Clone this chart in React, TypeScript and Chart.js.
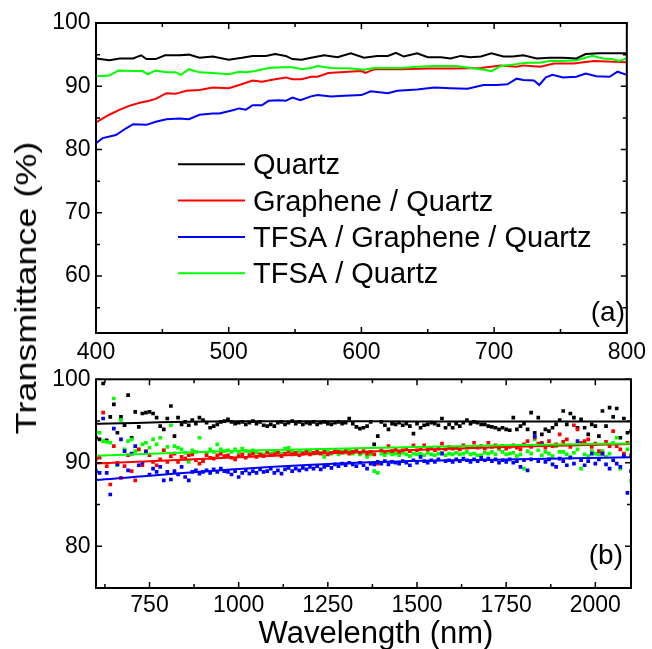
import React, { useEffect, useRef } from 'react';
import { Chart, registerables } from 'chart.js';
Chart.register(...registerables);

const FONT = '"Liberation Sans", Arial, Helvetica, sans-serif';

// ---------- Panel (a) ----------
const seriesNames = ['Quartz', 'Graphene / Quartz', 'TFSA / Graphene / Quartz', 'TFSA / Quartz'];
const seriesColors = ['#000000', '#ff0000', '#0000ff', '#00ff00'];

const quartzAX = [400,410,418,428,434,438,445,452,463,470,478,488,500,510,518,528,535,543,548,555,562,572,582,592,602,612,620,626,632,642,650,660,667,675,682,690,698,707,714,722,732,742,752,762,769,779,800];
const quartzAY = [94.4,94.1,94.4,94.4,94.9,94.3,94.3,94.9,94.9,95.0,94.5,94.7,94.2,94.5,94.8,94.8,95.1,94.8,94.3,94.2,94.5,94.9,94.6,95.2,94.5,94.8,94.8,95.3,94.7,95.2,94.6,94.6,94.4,94.8,94.6,94.7,95.2,94.7,94.7,94.9,94.4,94.5,94.5,94.4,95.1,95.2,95.2];

const grapheneAX = [400,410,418,425,433,440,445,453,460,468,478,488,500,508,518,525,535,543,548,555,562,567,575,590,600,603,610,630,650,670,690,705,717,722,735,745,760,775,800];
const grapheneAY = [84.3,85.5,86.3,86.9,87.4,87.7,88.0,88.9,88.8,89.3,89.4,89.8,89.7,90.2,90.9,90.7,91.1,91.4,91.1,91.1,91.5,91.5,92.1,92.3,92.4,92.1,92.7,92.7,92.8,92.8,92.9,93.3,93.1,93.3,93.1,93.6,93.6,94.0,93.8];

const tfsaGrapheneAX = [400,405,415,423,428,438,445,453,463,470,478,488,493,503,508,513,518,525,530,538,543,548,554,562,567,577,587,600,607,620,627,642,655,667,680,692,702,710,717,722,730,734,739,744,752,762,769,777,787,793,800];
const tfsaGrapheneAY = [81.0,81.8,82.3,83.4,84.0,83.9,84.4,84.8,84.9,84.8,85.5,85.7,85.7,86.2,86.5,86.3,87.0,87.0,87.7,87.8,87.7,88.2,87.8,88.4,88.6,88.4,88.5,88.6,89.2,88.9,89.3,89.5,89.8,89.7,89.6,90.2,90.2,90.3,91.2,91.0,90.9,90.2,91.4,91.8,91.4,91.5,92.0,91.6,91.5,92.3,91.8];

const tfsaAX = [400,410,417,428,435,439,445,453,460,464,470,478,488,500,508,513,520,530,540,548,555,562,567,577,592,602,610,630,642,655,672,682,690,698,705,717,724,734,742,752,762,767,774,782,789,794,800];
const tfsaAY = [91.6,91.7,92.5,92.4,92.4,91.9,92.5,92.2,92.2,91.8,92.7,92.2,92.1,91.9,92.3,92.2,92.4,92.9,93.0,93.0,92.7,92.9,93.2,92.9,92.8,92.6,92.9,92.9,93.1,93.2,93.2,92.9,92.7,92.4,93.2,93.5,93.7,93.7,94.0,94.0,94.1,94.4,94.8,94.4,94.3,94.0,94.4];

const xTicksA = [400,450,500,550,600,650,700,750,800];
const xLabelsA = [400,500,600,700,800];
const yTicksA = [55,60,65,70,75,80,85,90,95,100];
const yLabelsA = [60,70,80,90,100];

// ---------- Panel (b) ----------
const waveB = [
  600,610,620,630,640,650,660,670,680,690,
  700,710,720,730,740,750,760,770,780,790,
  800,810,820,830,840,850,860,870,880,890,
  900,910,920,930,940,950,960,970,980,990,
  1000,1010,1020,1030,1040,1050,1060,1070,1080,1090,
  1100,1110,1120,1130,1140,1150,1160,1170,1180,1190,
  1200,1210,1220,1230,1240,1250,1260,1270,1280,1290,
  1300,1310,1320,1330,1340,1350,1360,1370,1380,1390,
  1400,1410,1420,1430,1440,1450,1460,1470,1480,1490,
  1500,1510,1520,1530,1540,1550,1560,1570,1580,1590,
  1600,1610,1620,1630,1640,1650,1660,1670,1680,1690,
  1700,1710,1720,1730,1740,1750,1760,1770,1780,1790,
  1800,1810,1820,1830,1840,1850,1860,1870,1880,1890,
  1900,1910,1920,1930,1940,1950,1960,1970,1980,1990,
  2000,2010,2020,2030,2040,2050,2060,2070,2080,2090,
  2100,
];
const quartzB = [
  93.0,92.8,99.5,92.7,95.5,97.0,93.6,95.5,94.5,98.1,
  93.0,96.1,94.3,95.9,96.0,96.1,95.9,95.4,94.4,94.0,
  95.3,96.8,93.2,95.4,94.6,94.9,94.5,95.1,94.7,95.4,
  95.1,94.8,94.2,94.4,94.6,94.9,95.0,95.2,94.9,94.7,
  94.8,94.9,94.6,94.8,95.0,94.7,94.9,94.5,94.4,94.6,
  94.4,94.8,94.9,94.6,94.8,95.0,94.7,94.9,94.6,94.8,
  94.7,94.9,94.6,94.8,94.9,94.7,94.6,94.8,94.9,94.7,
  94.8,95.3,94.7,94.3,94.1,94.2,94.4,94.9,92.2,93.2,
  94.9,94.5,94.0,94.7,94.6,94.8,94.5,94.7,94.4,93.5,
  94.7,94.2,94.5,94.6,94.8,94.7,94.5,95.3,94.2,94.6,
  94.2,94.7,94.4,94.8,95.1,94.7,94.9,94.8,94.6,94.6,
  94.4,94.3,94.2,94.0,94.2,94.0,93.9,95.4,94.0,94.4,
  94.7,94.0,96.0,93.6,95.4,93.4,94.0,93.8,94.2,94.6,
  95.1,96.2,94.6,95.9,95.4,94.2,95.2,94.2,93.4,94.6,
  94.4,93.2,96.2,94.4,96.6,95.5,96.5,93.0,95.3,93.6,
  93.8,
];
const grapheneB = [
  90.5,90.6,96.0,89.6,87.4,92.0,90.0,88.2,89.6,90.9,
  89.0,87.9,91.6,89.7,91.4,90.9,90.1,89.7,90.4,91.5,
  90.1,90.8,91.1,90.1,90.7,90.5,90.9,91.0,90.3,89.9,
  90.2,90.9,90.6,90.5,90.9,91.1,90.8,90.9,90.6,90.4,
  90.8,91.0,90.6,90.9,91.1,90.7,91.0,90.8,91.2,90.9,
  91.0,91.2,90.8,91.1,91.3,91.0,91.2,90.9,91.1,91.3,
  91.0,91.2,91.4,91.1,91.3,91.0,91.2,91.5,91.3,91.2,
  91.4,91.1,91.3,91.5,91.2,91.4,91.1,91.3,91.0,89.9,
  91.5,91.3,92.0,91.4,91.6,91.3,91.5,91.7,91.4,92.1,
  91.5,91.7,92.1,91.6,91.8,91.5,91.7,92.3,91.6,91.9,
  91.7,91.8,91.6,92.1,91.8,91.9,92.4,91.8,92.0,91.7,
  92.4,91.9,92.1,91.8,92.0,91.7,91.9,92.1,91.8,91.6,
  92.2,92.6,91.9,93.0,92.3,92.4,91.8,92.6,92.0,92.2,
  93.4,92.5,92.8,91.9,94.5,94.0,92.4,92.6,92.8,91.9,
  92.3,91.4,91.1,92.5,92.0,93.8,92.0,91.6,91.1,92.4,
  90.9,
];
const tfsaGrapheneB = [
  89.0,88.8,95.3,88.8,86.2,94.1,89.8,92.8,91.4,89.1,
  91.1,92.0,89.7,90.0,91.3,88.6,89.3,88.9,89.5,87.9,
  88.9,88.0,89.0,88.6,89.5,88.3,87.9,88.9,89.1,88.7,
  88.9,89.1,88.8,89.2,88.9,89.3,89.0,88.9,88.6,89.0,
  88.3,88.8,89.1,88.7,89.0,88.8,89.2,88.9,89.0,89.3,
  88.8,89.1,88.7,89.2,89.4,89.0,89.3,89.1,89.4,89.2,
  89.5,89.3,89.6,89.2,89.5,89.7,89.4,89.8,89.6,89.9,
  89.7,90.0,89.8,89.6,90.0,89.7,89.3,89.9,89.8,90.1,
  89.9,90.2,89.8,90.1,90.0,89.9,90.2,90.0,89.7,90.3,
  90.0,90.7,90.2,90.0,90.3,90.1,90.4,91.1,90.2,90.3,
  90.1,90.4,90.2,90.5,90.3,90.1,90.4,90.2,90.6,90.3,
  90.5,90.2,90.4,90.0,90.3,90.1,90.4,90.0,90.2,89.5,
  90.3,89.1,90.4,93.2,90.2,92.2,90.1,90.4,89.8,89.5,
  90.5,90.2,89.7,90.6,89.9,92.6,90.3,89.7,90.2,91.1,
  89.9,90.4,91.1,89.8,89.3,90.3,89.9,89.5,90.8,86.4,
  89.0,
];
const tfsaB = [
  93.7,93.6,92.6,92.5,92.4,97.7,89.7,95.1,91.6,92.6,
  92.8,91.4,91.6,92.2,92.4,91.8,92.8,92.2,93.0,91.5,
  91.9,94.5,92.0,91.8,91.6,91.2,90.1,91.5,91.3,93.0,
  90.3,91.1,91.6,91.3,92.2,91.6,91.4,91.5,91.3,91.6,
  91.2,91.7,91.4,91.3,91.5,91.2,91.0,91.0,91.3,91.1,
  91.4,91.2,91.1,91.7,91.8,91.3,91.0,91.4,91.2,91.4,
  91.3,91.1,91.5,91.2,90.7,91.3,91.1,91.4,91.0,91.3,
  91.2,91.5,91.1,91.3,91.0,91.2,90.7,91.0,89.0,88.8,
  91.1,90.9,91.2,91.0,91.1,90.9,91.2,91.0,90.8,91.1,
  91.0,91.1,90.9,91.2,91.0,90.9,91.1,91.2,90.9,91.1,
  91.0,91.2,91.0,91.1,91.3,91.0,91.1,90.9,90.9,91.2,
  91.1,91.3,91.0,91.6,91.3,91.0,91.1,91.2,90.8,91.0,
  89.3,91.4,91.1,92.8,91.5,90.9,91.3,91.1,90.8,92.0,
  91.3,91.3,91.0,90.7,91.2,91.6,89.3,91.0,90.8,91.4,
  91.1,91.0,91.4,90.7,91.1,92.4,93.0,89.3,91.0,91.6,
  87.8,
];

// fitted curves in panel (b)
const fitXB = [600, 1000, 1364, 1745, 2100];
const fitQuartzB = [94.68, 94.97, 94.96, 94.95, 94.95];
const fitGrapheneB = [89.9, 90.65, 91.35, 91.9, 92.25];
const fitTfsaGrapheneB = [87.95, 89.25, 90.05, 90.4, 90.65];
const fitTfsaB = [90.85, 91.45, 91.76, 92.1, 92.3];

const xTicksB = [625,750,875,1000,1125,1250,1375,1500,1625,1750,1875,2000];
const xLabelsB = [750,1000,1250,1500,1750,2000];
const yTicksB = [80,85,90,95,100];
const yLabelsB = [80,90,100];

const pts = (xs: number[], ys: number[]) => xs.map((x, i) => ({ x, y: ys[i] }));

function framePlugin(opts: {
  id: string; xMajor: number[]; yMajor: number[]; tag: string; tagX: number; tagY: number;
  legend?: boolean; xTitle?: { text: string; x: number; y: number };
}) {
  return {
    id: opts.id,
    afterDatasetsDraw(chart: any) {
      const { ctx, chartArea: a } = chart;
      const xs = chart.scales.x;
      const ys = chart.scales.y;
      ctx.save();
      ctx.strokeStyle = '#000';
      ctx.lineWidth = 2;
      ctx.strokeRect(a.left, a.top, a.right - a.left, a.bottom - a.top);
      ctx.lineWidth = 1.5;
      ctx.beginPath();
      xs.ticks.forEach((t: any) => {
        const p = xs.getPixelForValue(t.value);
        const len = opts.xMajor.includes(t.value) ? 6 : 4;
        ctx.moveTo(p, a.bottom); ctx.lineTo(p, a.bottom - len);
        ctx.moveTo(p, a.top); ctx.lineTo(p, a.top + len);
      });
      ys.ticks.forEach((t: any) => {
        const p = ys.getPixelForValue(t.value);
        const len = opts.yMajor.includes(t.value) ? 6 : 4;
        ctx.moveTo(a.left, p); ctx.lineTo(a.left + len, p);
        ctx.moveTo(a.right, p); ctx.lineTo(a.right - len, p);
      });
      ctx.stroke();

      ctx.fillStyle = '#000';
      ctx.font = `28px ${FONT}`;
      ctx.textAlign = 'right';
      ctx.textBaseline = 'alphabetic';
      ctx.fillText(opts.tag, opts.tagX, opts.tagY);

      if (opts.legend) {
        ctx.font = `29px ${FONT}`;
        ctx.textAlign = 'left';
        seriesNames.forEach((name, i) => {
          const y = 164.3 + i * 36.3;
          ctx.strokeStyle = seriesColors[i];
          ctx.lineWidth = 2;
          ctx.beginPath();
          ctx.moveTo(178, y); ctx.lineTo(245, y);
          ctx.stroke();
          ctx.fillStyle = '#000';
          ctx.fillText(name, 253, y + 10);
        });
      }
      if (opts.xTitle) {
        ctx.font = `31px ${FONT}`;
        ctx.textAlign = 'center';
        ctx.fillStyle = '#000';
        ctx.fillText(opts.xTitle.text, opts.xTitle.x, opts.xTitle.y);
      }
      ctx.restore();
    },
  };
}

function axis(min: number, max: number, ticks: number[], labels: number[], size: { w?: number; h?: number }, pad: number) {
  return {
    type: 'linear',
    min, max,
    grid: { display: false, drawTicks: false },
    border: { display: false },
    afterBuildTicks: (s: any) => { s.ticks = ticks.map((v) => ({ value: v })); },
    afterFit: (s: any) => {
      if (size.w !== undefined) s.width = size.w;
      if (size.h !== undefined) s.height = size.h;
    },
    ticks: {
      autoSkip: false,
      maxRotation: 0,
      minRotation: 0,
      padding: pad,
      color: '#000',
      font: { family: FONT, size: 23 },
      callback: (v: number) => (labels.includes(v) ? String(v) : ''),
    },
  };
}

export default function App() {
  const topRef = useRef<HTMLCanvasElement>(null);
  const botRef = useRef<HTMLCanvasElement>(null);

  useEffect(() => {
    const lineDs = (i: number, xs: number[], ys: number[]) => ({
      label: seriesNames[i],
      data: pts(xs, ys),
      borderColor: seriesColors[i],
      backgroundColor: seriesColors[i],
      borderWidth: 2,
      pointRadius: 0,
      tension: 0,
    });
    const top = new Chart(topRef.current as HTMLCanvasElement, {
      type: 'line',
      data: {
        datasets: [
          lineDs(0, quartzAX, quartzAY),
          lineDs(3, tfsaAX, tfsaAY),
          lineDs(1, grapheneAX, grapheneAY),
          lineDs(2, tfsaGrapheneAX, tfsaGrapheneAY),
        ],
      },
      options: {
        responsive: false,
        animation: false,
        events: [],
        layout: { padding: { top: 23, right: 21, left: 0, bottom: 0 } },
        plugins: { legend: { display: false }, tooltip: { enabled: false } },
        scales: {
          x: axis(400, 800, xTicksA, xLabelsA, { h: 32 }, 6),
          y: axis(51, 100, yTicksA, yLabelsA, { w: 96 }, 5.5),
        },
      } as any,
      plugins: [framePlugin({ id: 'frameA', xMajor: xLabelsA, yMajor: yLabelsA, tag: '(a)', tagX: 625, tagY: 321, legend: true })],
    });

    const scatterDs = (i: number, ys: number[]) => ({
      label: seriesNames[i],
      data: pts(waveB, ys),
      showLine: false,
      pointStyle: 'rect',
      pointRadius: 2.6,
      pointBorderWidth: 0,
      pointBackgroundColor: seriesColors[i],
      backgroundColor: seriesColors[i],
      borderColor: seriesColors[i],
    });
    const fitDs = (i: number, ys: number[]) => ({
      label: seriesNames[i] + ' fit',
      data: pts(fitXB, ys),
      showLine: true,
      pointRadius: 0,
      borderWidth: 2,
      borderColor: seriesColors[i],
      backgroundColor: seriesColors[i],
      cubicInterpolationMode: 'monotone',
    });
    const bottom = new Chart(botRef.current as HTMLCanvasElement, {
      type: 'scatter',
      data: {
        datasets: [
          fitDs(3, fitTfsaB),
          fitDs(1, fitGrapheneB),
          fitDs(2, fitTfsaGrapheneB),
          fitDs(0, fitQuartzB),
          scatterDs(2, tfsaGrapheneB),
          scatterDs(1, grapheneB),
          scatterDs(3, tfsaB),
          scatterDs(0, quartzB),
        ],
      },
      options: {
        responsive: false,
        animation: false,
        events: [],
        layout: { padding: { top: 13, right: 21, left: 0, bottom: 0 } },
        plugins: { legend: { display: false }, tooltip: { enabled: false } },
        scales: {
          x: axis(600, 2100, xTicksB, xLabelsB, { h: 61 }, 4),
          y: axis(75, 100, yTicksB, yLabelsB, { w: 96 }, 5.5),
        },
      } as any,
      plugins: [framePlugin({ id: 'frameB', xMajor: xLabelsB, yMajor: yLabelsB, tag: '(b)', tagX: 623, tagY: 204, xTitle: { text: 'Wavelength (nm)', x: 376, y: 283 } })],
    });

    return () => {
      top.destroy();
      bottom.destroy();
    };
  }, []);

  return (
    <div style={{ position: 'absolute', left: 0, top: 0, width: 652, height: 649, background: '#fff', overflow: 'hidden' }}>
      <canvas ref={topRef} width={652} height={365} style={{ position: 'absolute', left: 0, top: 0 }} />
      <canvas ref={botRef} width={652} height={289} style={{ position: 'absolute', left: 0, top: 360 }} />
      <div
        style={{
          position: 'absolute',
          left: 26,
          top: 287.5,
          transform: 'translate(-50%, -50%) rotate(-90deg) scaleX(1.2)',
          font: `30px ${FONT}`,
          lineHeight: '30px',
          whiteSpace: 'nowrap',
          color: '#000',
        }}
      >
        Transmittance (%)
      </div>
    </div>
  );
}
